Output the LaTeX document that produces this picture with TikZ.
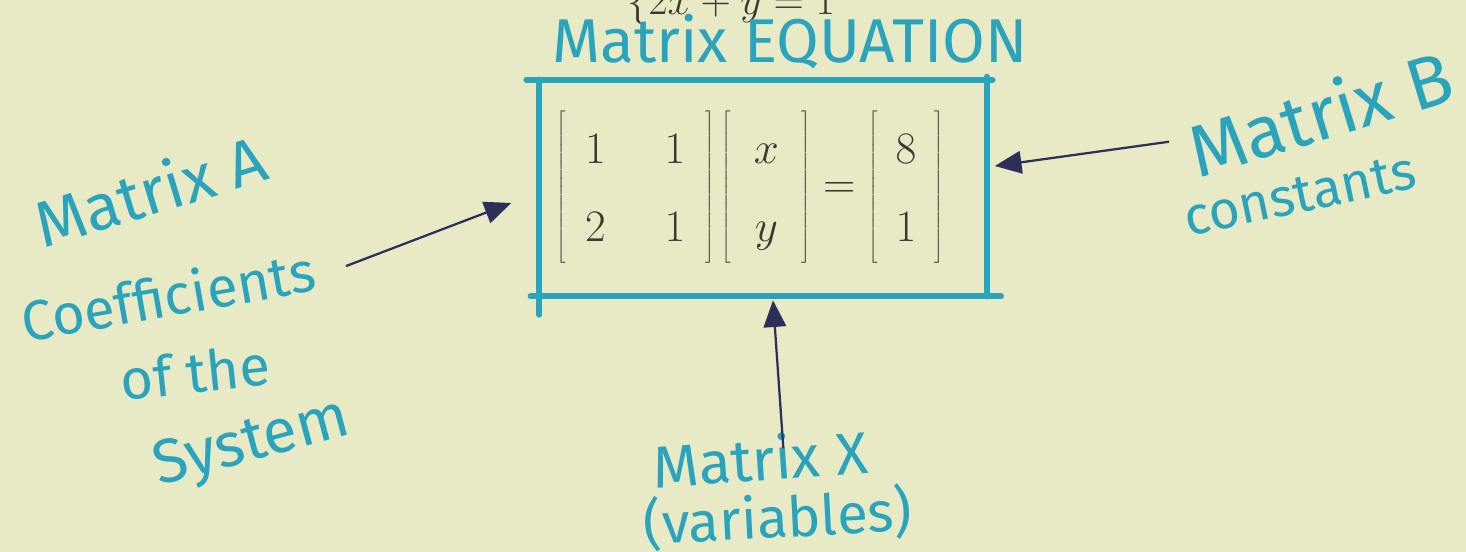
\documentclass[tikz,border=0pt]{standalone}
\usepackage{fix-cm}
\usepackage{fontspec}
\setsansfont{Fira Sans}
\usetikzlibrary{calc, arrows.meta, positioning}
\definecolor{Paper}{HTML}{E7EAC5}
\definecolor{Marker}{HTML}{2AA3BD}
\definecolor{Ink}{HTML}{2D2F5A}
\definecolor{Print}{HTML}{3A3A32}

\tikzset{
  pen/.style={draw=Marker, line width=4.5pt, line cap=round},
  hand/.style={text=Marker, font=\sffamily\fontsize{40}{44}\selectfont, inner sep=0pt},
  pointer/.style={draw=Ink, line width=1.6pt, -{Triangle[length=19pt, width=16pt]}},
}

\begin{document}
\begin{tikzpicture}[x=0.25mm, y=-0.25mm]
  \fill[Paper] (0,0) rectangle (1466,552);
  \useasboundingbox (0,0) rectangle (1466,552);

  % system above, cut by the page edge
  \node[anchor=base west, inner sep=0pt, text=Print, font=\fontsize{30}{36}\selectfont] (sys) at (627,15) {$\{2x+y=1$};

  % the matrix equation and its frame
  \node[text=Print, font=\fontsize{32}{36}\selectfont, inner sep=0pt] (eq) at (750,187) {%
    \renewcommand{\arraystretch}{1.55}%
    $\left[\begin{array}{@{\hspace{14pt}}c@{\hspace{42pt}}c@{\hspace{14pt}}}1&1\\2&1\end{array}\right]
     \left[\begin{array}{@{\hspace{16pt}}c@{\hspace{16pt}}}x\\y\end{array}\right]=
     \left[\begin{array}{@{\hspace{13pt}}c@{\hspace{13pt}}}8\\1\end{array}\right]$};
  \node[minimum width=111.75mm, minimum height=54mm, inner sep=0pt] (frame) at (763,188) {};
  \draw[pen] ([xshift=-9pt]frame.north west) -- ([xshift=4pt]frame.north east);
  \draw[pen] ([xshift=-6pt]frame.south west) -- ([xshift=10pt]frame.south east);
  \draw[pen] (frame.north west) -- ([yshift=-13pt]frame.south west);
  \draw[pen] ([yshift=2pt]frame.north east) -- (frame.south east);

  \node[hand, font=\sffamily\fontsize{44}{48}\selectfont] (title) at (790,42) {Matrix EQUATION};

  % left labels
  \node[hand, font=\sffamily\fontsize{46}{50}\selectfont, rotate=17] (matA) at (150,190) {Matrix A};
  \node[hand, rotate=10] (coef) at (168,295) {Coefficients};
  \node[hand, rotate=6] (ofthe) at (195,372) {of the};
  \node[hand, font=\sffamily\fontsize{44}{48}\selectfont, rotate=15] (system) at (252,445) {System};

  % right labels
  \node[hand, font=\sffamily\fontsize{52}{56}\selectfont, rotate=17] (matB) at (1320,112) {Matrix B};
  \node[hand, font=\sffamily\fontsize{38}{42}\selectfont, rotate=12] (consts) at (1300,195) {constants};

  % bottom labels
  \node[hand, font=\sffamily\fontsize{42}{46}\selectfont, rotate=4] (matX) at (760,458) {Matrix X};
  \node[hand, rotate=3] (vars) at (778,518) {(variables)};

  \draw[pointer] ($(coef.east)+(31,-3)$) -- ($(frame.west)+(-28,15)$);
  \draw[pointer] ($(matB.west)+(-21,-10)$) -- ($(frame.east)+(8,-22)$);
  \draw[pointer] ($(matX.north)+(25,14)$) -- ($(frame.south)+(10,4)$);
\end{tikzpicture}
\end{document}
